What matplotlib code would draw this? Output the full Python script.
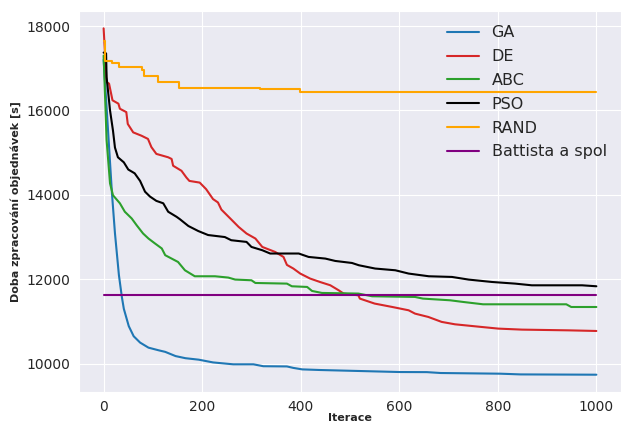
import matplotlib
matplotlib.use("Agg")
import matplotlib.pyplot as plt
import seaborn as sns

# best-so-far values (iteration, value)
ga_it = [0, 17, 23, 31, 37, 41, 51, 61, 74, 91, 112, 125, 146, 166, 193, 222, 263,
         304, 324, 372, 385, 403, 440, 521, 602, 656, 684, 805, 846, 1000]
ga_val = [17200, 14020, 13090, 12100, 11580, 11300, 10890, 10650, 10500, 10380, 10316,
          10280, 10180, 10130, 10095, 10030, 9985, 9985, 9940, 9935, 9900, 9865, 9850,
          9826, 9802, 9800, 9779, 9763, 9746, 9739]

de_it = [0, 6, 11, 18, 30, 33, 46, 49, 60, 77, 90, 97, 107, 131, 138, 141, 158, 168,
         174, 195, 208, 222, 232, 239, 257, 274, 290, 308, 322, 348, 365, 372, 385, 399,
         419, 439, 460, 477, 487, 517, 520, 550, 586, 619, 632, 659, 686, 713, 767, 801,
         849, 943, 1000]
de_val = [17945, 16670, 16635, 16240, 16160, 16040, 15960, 15680, 15480, 15400, 15325,
          15130, 14970, 14890, 14850, 14690, 14570, 14410, 14330, 14290, 14135, 13900,
          13820, 13650, 13440, 13240, 13084, 12965, 12766, 12648, 12529, 12340, 12254,
          12135, 12017, 11936, 11858, 11739, 11661, 11620, 11542, 11424, 11343, 11265,
          11186, 11107, 10990, 10933, 10870, 10831, 10807, 10790, 10775]

abc_it = [0, 6, 13, 19, 33, 43, 57, 67, 80, 91, 104, 118, 125, 151, 165, 185, 226, 253,
          267, 300, 308, 372, 382, 413, 423, 443, 517, 545, 632, 648, 703, 730, 770, 939,
          949, 1000]
abc_val = [17300, 15300, 14270, 13990, 13800, 13600, 13440, 13280, 13085, 12965, 12850,
           12730, 12570, 12410, 12213, 12071, 12071, 12040, 11993, 11976, 11912, 11897,
           11834, 11818, 11723, 11676, 11661, 11597, 11581, 11542, 11502, 11462, 11407,
           11407, 11343, 11343]

pso_it = [0, 5, 6, 13, 19, 23, 29, 41, 50, 63, 74, 84, 94, 107, 121, 131, 148, 155, 172,
          192, 212, 246, 259, 290, 300, 322, 338, 396, 416, 450, 470, 504, 518, 551, 592,
          619, 660, 707, 741, 788, 835, 869, 971, 1000]
pso_val = [17370, 17350, 16790, 16000, 15520, 15120, 14890, 14770, 14600, 14510, 14330,
           14075, 13960, 13857, 13800, 13600, 13480, 13421, 13262, 13143, 13048, 13000,
           12925, 12885, 12766, 12688, 12610, 12610, 12529, 12490, 12434, 12386, 12332,
           12254, 12213, 12135, 12071, 12055, 11992, 11936, 11897, 11857, 11857, 11834]

rand_it = [0, 3, 17, 32, 77, 82, 110, 153, 318, 398, 1000]
rand_val = [17650, 17170, 17130, 17030, 16950, 16810, 16680, 16530, 16505, 16440, 16440]

battista_it = [0, 1000]
battista_val = [11620, 11620]

sns.set_style("darkgrid")
plt.rcParams["font.family"] = ["DejaVu Sans"]

fig = plt.figure(figsize=(6.21, 4.25), dpi=100)
ax = fig.add_axes([0.1272, 0.0776, 0.8728, 0.8965])

ax.plot(ga_it, ga_val, color="#1f77b4", lw=1.5, label="GA")
ax.plot(de_it, de_val, color="#d62728", lw=1.5, label="DE")
ax.plot(abc_it, abc_val, color="#2ca02c", lw=1.5, label="ABC")
ax.plot(pso_it, pso_val, color="black", lw=1.5, label="PSO")
ax.plot(rand_it, rand_val, color="orange", lw=1.5, drawstyle="steps-post", label="RAND")
ax.plot(battista_it, battista_val, color="purple", lw=1.5, label="Battista a spol")

ax.set_xticks([0, 200, 400, 600, 800, 1000])
ax.set_yticks([10000, 12000, 14000, 16000, 18000])
ax.tick_params(labelsize=10, colors="#262626", length=0, pad=6)
# xlabel pulled up a bit so it stays inside the figure
ax.set_xlabel("Iterace", fontsize=8, fontweight="bold", labelpad=-1)
ax.set_ylabel("Doba zpracování objednávek [s]", fontsize=8, fontweight="bold")
ax.legend(loc="upper right", fontsize=11.5, frameon=False, labelspacing=0.55)

fig.savefig("out.png", dpi=100)
